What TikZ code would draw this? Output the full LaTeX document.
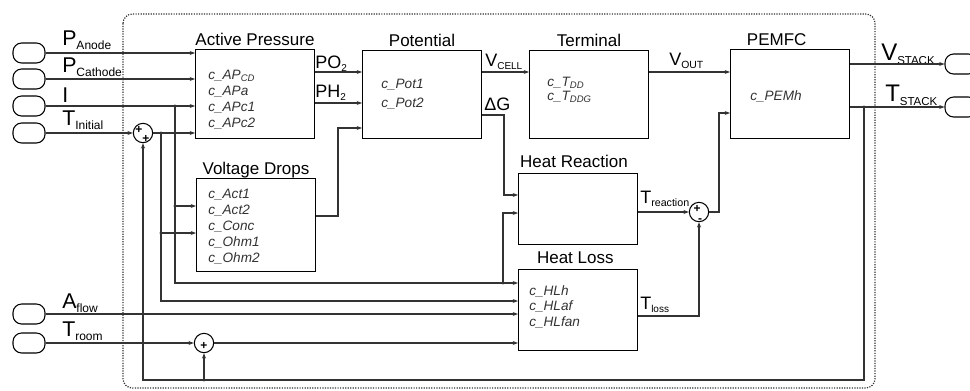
\documentclass[tikz,border=0pt]{standalone}
\usepackage{fontspec}
\setmainfont{Liberation Sans}
\usetikzlibrary{arrows.meta,calc}

\newcommand{\subtxt}[2][9]{\raisebox{-.2em}{\fontsize{#1}{#1}\selectfont#2}}

\tikzset{
  blk/.style={draw,line width=1pt,anchor=north west,minimum width=89pt,inner sep=0},
  port/.style={draw,line width=.8pt,rounded corners=6.5pt,minimum width=24pt,minimum height=15pt,inner sep=0},
  sumc/.style={draw,circle,line width=.8pt,minimum size=14.5pt,inner sep=0},
  sign/.style={inner sep=0,font=\fontsize{9}{9}\selectfont\bfseries},
  ttl/.style={anchor=base,inner sep=0,font=\fontsize{12.75}{14}\selectfont},
  par/.style={anchor=base west,inner sep=0,text=black!80,font=\fontsize{10.2}{12}\selectfont\itshape},
  inlbl/.style={anchor=base west,inner sep=0,font=\fontsize{16}{16}\selectfont},
  outlbl/.style={anchor=base west,inner sep=0,font=\fontsize{18}{18}\selectfont},
  siglbl/.style={anchor=base west,inner sep=0,font=\fontsize{13.5}{14}\selectfont},
  wire/.style={line width=.8pt,draw=black!80},
  sigarr/.style={wire,-{Stealth[length=4pt,width=3pt]}}
}

\begin{document}
\begin{tikzpicture}[x=.75pt,y=-.75pt]
\fill[white] (0,0) rectangle (970,390);
\useasboundingbox (0,0) rectangle (970,390);
\draw[densely dotted,line width=.9pt,rounded corners=7pt,black!80] (123,14) rectangle (875,388);

\foreach \n/\y in {pA/53,pC/79,pI/106,pT/133,pAf/314,pTr/343}
  \node[port] (\n) at (29,\y) {};
\foreach \n/\y in {oV/64,oT/107}
  \node[port] (\n) at (961,\y) {};

\node[inlbl] (lA) at (62,45) {P\subtxt{Anode}};
\node[inlbl] (lC) at (62,72) {P\subtxt{Cathode}};
\node[inlbl] (lI) at (62,102) {I};
\node[inlbl] (lT) at (62,125) {T\subtxt{Initial}};
\node[inlbl] (lAf) at (62,308) {A\subtxt{flow}};
\node[inlbl] (lTr) at (62,336) {T\subtxt{room}};
\node[outlbl] (lVs) at (881,60) {V\subtxt[8.6]{STACK}};
\node[outlbl] (lTs) at (885,101) {T\subtxt[8.6]{STACK}};

\node[blk,minimum height=66.75pt] (ap) at (195,49) {};
\node[blk,minimum height=66pt] (pot) at (362,50) {};
\node[blk,minimum height=66pt] (term) at (529,50) {};
\node[blk,minimum height=66.75pt] (pem) at (730,49) {};
\node[blk,minimum height=69.75pt] (vd) at (196,178) {};
\node[blk,minimum height=53.25pt] (hr) at (518,173) {};
\node[blk,minimum height=60.75pt] (hl) at (518,269) {};

\node[ttl] (apT) at ([yshift=3pt]ap.north) {Active Pressure};
\node[ttl] (potT) at ([yshift=3pt]pot.north) {Potential};
\node[ttl] (termT) at ([yshift=3pt]term.north) {Terminal};
\node[ttl] (pemT) at ([xshift=-10pt,yshift=3pt]pem.north) {PEMFC};
\node[ttl] (vdT) at ([yshift=3pt]vd.north) {Voltage Drops};
\node[ttl] (hrT) at ([xshift=-3pt,yshift=4pt]hr.north) {Heat Reaction};
\node[ttl] (hlT) at ([xshift=-2pt,yshift=4pt]hl.north) {Heat Loss};

\foreach \t [count=\j from 0] in {c\_AP\textsubscript{CD},c\_APa,c\_APc1,c\_APc2}
  \node[par] (apx\j) at (208,{79+16*\j}) {\t};
\foreach \t [count=\j from 0] in {c\_Pot1,c\_Pot2}
  \node[par] (potx\j) at (381,{88+19*\j}) {\t};
\foreach \t [count=\j from 0] in {c\_T\textsubscript{DD},c\_T\textsubscript{DDG}}
  \node[par] (termx\j) at (547,{86+14*\j}) {\t};
\node[par] (pemx) at (750,100) {c\_PEMh};
\foreach \t [count=\j from 0] in {c\_Act1,c\_Act2,c\_Conc,c\_Ohm1,c\_Ohm2}
  \node[par] (vdx\j) at (208,{198+16*\j}) {\t};
\foreach \t [count=\j from 0] in {c\_HLh,c\_HLaf,c\_HLfan}
  \node[par] (hlx\j) at (529,{295+15.5*\j}) {\t};

\node[sumc] (s1) at (143,133) {};
\node[sumc] (s2) at (204,343) {};
\node[sumc] (s3) at (699,212) {};
\node[sign] (s1a) at (139,130) {+};
\node[sign] (s1b) at (146,139) {+};
\node[sign] (s2a) at (204,346) {+};
\node[sign] (s3a) at (697,209) {+};
\node[sign] (s3b) at (700,221) {-};

\node[siglbl] (lPO) at (315,68) {PO\subtxt[7.5]{2}};
\node[siglbl] (lPH) at (315,97) {PH\subtxt[7.5]{2}};
\node[siglbl] (lVc) at (485,66) {V\subtxt[7.5]{CELL}};
\node[siglbl] (ldG) at (484,110) {ΔG};
\node[siglbl] (lVo) at (669,65) {V\subtxt[7.8]{OUT}};
\node[siglbl] (lTre) at (640,203) {T\subtxt[8]{reaction}};
\node[siglbl] (lTlo) at (640,309) {T\subtxt[7.5]{loss}};

\coordinate (pot1) at ($(pot.north west)+(0,22)$);
\coordinate (pot2) at ($(pot.north west)+(0,53)$);
\coordinate (pot3) at ($(pot.north west)+(0,78)$);
\coordinate (vdo) at ($(vd.north east)+(0,38)$);
\coordinate (vd1) at ($(vd.north west)+(0,28)$);
\coordinate (vd2) at ($(vd.north west)+(0,55)$);
\coordinate (term1) at ($(term.north west)+(0,22)$);
\coordinate (dG) at ($(pot.north east)+(0,65)$);
\coordinate (hr1) at ($(hr.north west)+(0,22)$);
\coordinate (hr2) at ($(hr.north west)+(0,40)$);
\coordinate (hro) at ($(hr.north east)+(0,39)$);
\foreach \n/\d in {1/14,2/32,3/45,4/74}
  \coordinate (hl\n) at ($(hl.north west)+(0,\d)$);
\coordinate (hlo) at ($(hl.north east)+(0,47)$);
\coordinate (pem1) at ($(pem.north west)+(0,23)$);
\coordinate (pem2) at ($(pem.north west)+(0,64)$);
\coordinate (jI) at (175,106);
\coordinate (jT) at (161,133);
\coordinate (jIv) at (jI |- vd1);
\coordinate (jTv) at (jT |- vd2);
\coordinate (jH) at ($(hl1)+(-15,0)$);
\coordinate (jS) at ($(pem.east |- oT)+(14,0)$);
\coordinate (fbl) at ($(jS)+(0,273)$);
\coordinate (jR) at (s2 |- fbl);

\draw[sigarr] (pA) -- (pA -| ap.west);
\draw[sigarr] (pC) -- (pC -| ap.west);
\draw[sigarr] (pI) -- (pI -| ap.west);
\draw[sigarr] (pT) -- (s1);
\draw[sigarr] (s1) -- (s1 -| ap.west);
\draw[sigarr] (jI) |- (hl1);
\draw[sigarr] (jIv) -- (vd1);
\draw[sigarr] (jT) |- (hl2);
\draw[sigarr] (jTv) -- (vd2);
\draw[sigarr] (pAf) -- (hl3);
\draw[sigarr] (pTr) -- (s2);
\draw[sigarr] (s2) -- (hl4);
\draw[sigarr] (jR) -- (s2);

\draw[sigarr] (pot1 -| ap.east) -- (pot1);
\draw[sigarr] (pot2 -| ap.east) -- (pot2);
\draw[sigarr] (vdo) -- ++(22,0) |- (pot3);
\draw[sigarr] (term1 -| pot.east) -- (term1);
\draw[sigarr] (dG) -- ++(22,0) |- (hr1);
\draw[sigarr] (jH) |- (hr2);
\draw[sigarr] (pem1 -| term.east) -- (pem1);
\draw[sigarr] (hro) -- (s3);
\draw[sigarr] (hlo) -| (s3);
\draw[sigarr] (s3) -- ++(20,0) |- (pem2);

\draw[sigarr] (pem.east |- oV) -- (oV);
\draw[sigarr] (pem.east |- oT) -- (oT);
\draw[sigarr] (jS) -- (fbl) -| (s1);

\foreach \c in {jI,jT,jIv,jTv,jH,jS,jR}
  \fill[black!80] (\c) circle (1.3pt);
\end{tikzpicture}
\end{document}
